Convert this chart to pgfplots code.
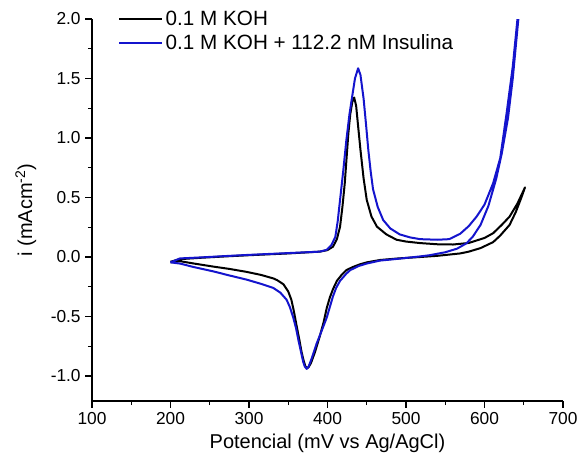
\documentclass[border=0pt]{standalone}
\usepackage{fontspec}
\setmainfont{Liberation Sans}
\usepackage{pgfplots}
\pgfplotsset{compat=1.18}
\definecolor{cvblue}{RGB}{20,20,205}
\begin{document}
\begin{tikzpicture}
\begin{axis}[
  scale only axis, width=353.25pt, height=286.5pt,
  xmin=100, xmax=700, ymin=-1.21, ymax=2.0,
  axis lines*=left,
  xtick={100,200,...,700}, ytick={-1,-0.5,0,0.5,1,1.5,2},
  minor x tick num=1, minor y tick num=1,
  tick align=outside, major tick length=5pt, minor tick length=3pt,
  every tick/.style={black, line width=0.8pt},
  axis line style={black, line width=1pt},
  ticklabel style={font=\fontsize{13}{15}\selectfont},
  /pgf/number format/assume math mode=true,
  yticklabel style={/pgf/number format/fixed,/pgf/number format/precision=1,/pgf/number format/fixed zerofill},
  xlabel={Potencial (mV vs Ag/AgCl)}, ylabel={i (mAcm\textsuperscript{-2})},
  label style={font=\fontsize{15}{18}\selectfont},
  ylabel style={yshift=4pt},
  legend style={draw=none, fill=none, at={(0.047,1.035)}, anchor=north west, font=\fontsize{15.5}{18}\selectfont, row sep=1pt},
  legend cell align=left,
  legend image code/.code={\draw[#1] (-4pt,0pt) -- (28pt,0pt);},
]
\addplot[black, line width=1.5pt, line join=round] coordinates {
(200,-0.04) (212,-0.018) (240,-0.006) (270,0.005) (300,0.015) (350,0.03) (390,0.045) (400,0.058) (407,0.087) (412,0.15) (416,0.255) (419,0.42) (422,0.62) (424.5,0.85) (426.6,1.04) (429,1.2) (431.5,1.3) (434,1.34) (436.5,1.27) (439,1.1) (442,0.9) (446,0.66) (450,0.48) (456,0.34) (463,0.255) (475,0.19) (488,0.145) (500,0.13) (518,0.117) (540,0.107) (560,0.105) (580,0.118) (600,0.16) (611,0.2) (622,0.27) (632,0.34) (642,0.45) (651.6,0.585)
(647,0.5) (640,0.38) (632,0.27) (620,0.18) (611,0.125) (595,0.075) (580,0.045) (569,0.03) (540,0.01) (518,0.0) (490,-0.012) (467,-0.025) (450,-0.045) (441,-0.062) (432,-0.085) (424,-0.11) (418,-0.15) (412,-0.2) (407,-0.27) (403,-0.34) (399,-0.43) (395,-0.55) (390,-0.67) (384,-0.8) (379,-0.89) (376,-0.925) (374,-0.935) (372,-0.92) (370,-0.88) (367,-0.8) (364,-0.69) (361,-0.59) (357,-0.45) (354,-0.36) (350,-0.29) (344,-0.23) (336,-0.195) (331,-0.18) (315,-0.15) (297,-0.125) (275,-0.1) (254,-0.08) (230,-0.055) (212,-0.035) (200,-0.045)
};
\addlegendentry{0.1 M KOH}
\addplot[cvblue, line width=1.5pt, line join=round] coordinates {
(200,-0.045) (212,-0.012) (240,-0.003) (270,0.008) (297,0.017) (350,0.033) (390,0.045) (399,0.06) (405,0.1) (410,0.17) (413,0.3) (416,0.48) (420,0.72) (424,0.98) (428,1.2) (431,1.33) (435,1.5) (439,1.586) (442,1.53) (446,1.33) (449,1.12) (452,0.9) (455,0.72) (458,0.57) (464,0.42) (471,0.31) (480,0.24) (492,0.19) (505,0.165) (518,0.15) (540,0.145) (555,0.15) (569,0.195) (580,0.26) (590,0.34) (600,0.44) (611,0.62) (620,0.83) (628,1.2) (636,1.6) (642,2.0) (647,2.35) (650,2.6)
(646,2.2) (641,1.85) (636,1.5) (630,1.17) (622,0.87) (615,0.66) (605,0.43) (595,0.27) (585,0.17) (577,0.115) (565,0.07) (550,0.04) (530,0.015) (518,0.005) (490,-0.015) (467,-0.03) (450,-0.055) (440,-0.075) (429,-0.11) (424,-0.14) (416,-0.2) (411,-0.26) (407,-0.33) (403,-0.42) (399,-0.51) (392,-0.63) (386,-0.73) (380,-0.85) (376,-0.92) (373.5,-0.94) (371,-0.92) (369,-0.88) (366,-0.79) (363,-0.7) (360,-0.6) (356,-0.5) (352,-0.42) (348,-0.36) (340,-0.3) (331,-0.26) (315,-0.225) (297,-0.19) (275,-0.155) (254,-0.12) (230,-0.085) (212,-0.055) (200,-0.045)
};
\addlegendentry{0.1 M KOH + 112.2 nM Insulina}
\end{axis}
\pgfresetboundingbox
\useasboundingbox (-69pt,-45pt) rectangle (365.25pt,300.75pt);
\end{tikzpicture}
\end{document}
